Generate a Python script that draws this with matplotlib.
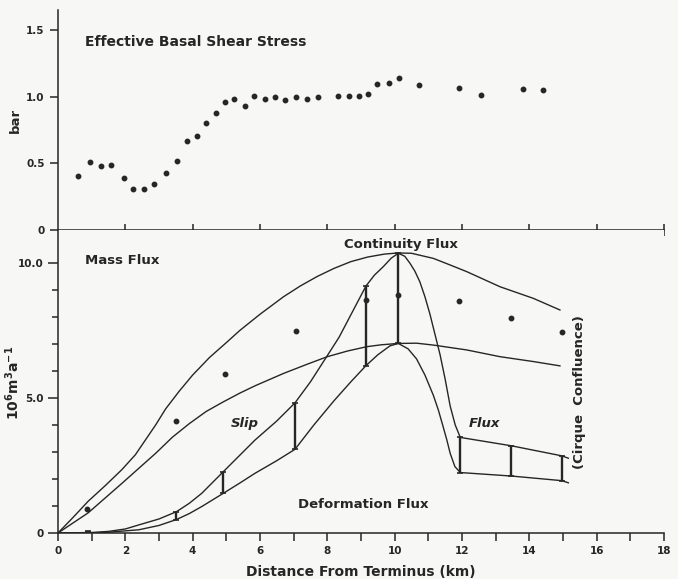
import numpy as np
from matplotlib import pyplot as plt

# top panel: effective basal shear stress (bar)
stress_km = [0.60, 0.95, 1.27, 1.58, 1.96, 2.22, 2.56, 2.86, 3.20, 3.53, 3.83, 4.12,
             4.40, 4.68, 4.96, 5.24, 5.55, 5.83, 6.15, 6.45, 6.75, 7.08, 7.40, 7.71,
             8.32, 8.63, 8.94, 9.22, 9.47, 9.84, 10.14, 10.71, 11.90, 12.56, 13.82, 14.41]
stress_bar = [0.405, 0.51, 0.478, 0.488, 0.388, 0.31, 0.31, 0.343, 0.428, 0.518, 0.67, 0.705,
              0.805, 0.875, 0.958, 0.98, 0.93, 1.008, 0.98, 0.995, 0.973, 0.995, 0.98, 0.995,
              1.008, 1.008, 1.005, 1.018, 1.098, 1.10, 1.138, 1.085, 1.065, 1.015, 1.055, 1.05]

# bottom panel: mass flux (10^6 m^3 a^-1)
cont_hi_km = [0, 0.45, 0.9, 1.4, 1.9, 2.3, 2.6, 2.9, 3.2, 3.6, 4.0, 4.5, 5.0, 5.4, 6.0, 6.7,
              7.2, 7.7, 8.2, 8.7, 9.2, 9.7, 10.1, 10.5, 11.15, 11.6, 12.14, 12.6, 13.13, 14.12, 14.91]
cont_hi = [0, 0.58, 1.18, 1.75, 2.35, 2.9, 3.45, 4.0, 4.6, 5.25, 5.85, 6.5, 7.05, 7.5, 8.1, 8.75,
           9.15, 9.5, 9.8, 10.05, 10.22, 10.33, 10.37, 10.36, 10.17, 9.95, 9.68, 9.42, 9.12, 8.69, 8.26]

cont_lo_km = [0, 0.9, 1.9, 2.9, 3.4, 3.9, 4.4, 4.9, 5.4, 5.85, 6.7, 7.4, 8.0, 8.6, 9.17, 9.6,
              10.1, 10.65, 11.15, 12.14, 13.13, 14.12, 14.91]
cont_lo = [0, 0.75, 1.84, 2.95, 3.55, 4.05, 4.5, 4.85, 5.18, 5.45, 5.91, 6.25, 6.53, 6.74, 6.90, 6.97,
           7.02, 7.03, 6.96, 6.78, 6.53, 6.35, 6.19]

slip_km = [0, 1.0, 1.5, 2.0, 2.4, 3.0, 3.52, 3.9, 4.27, 4.91, 5.4, 5.85, 6.5, 7.04, 7.5, 7.98,
           8.35, 8.67, 9.15, 9.4, 9.66, 9.9, 10.11, 10.3, 10.45, 10.6, 10.75, 10.9, 11.05, 11.2,
           11.35, 11.5, 11.65, 11.8, 11.95, 13.47, 14.96, 15.16]
slip = [0, 0.02, 0.06, 0.15, 0.30, 0.52, 0.79, 1.1, 1.47, 2.27, 2.88, 3.44, 4.15, 4.82, 5.6, 6.53,
        7.25, 8.01, 9.15, 9.55, 9.86, 10.18, 10.36, 10.25, 10.0, 9.7, 9.3, 8.75, 8.1, 7.35,
        6.6, 5.7, 4.7, 4.0, 3.54, 3.23, 2.86, 2.77]

deform_km = [0, 1.0, 1.5, 2.0, 2.4, 3.0, 3.52, 3.9, 4.27, 4.91, 5.4, 5.85, 6.5, 7.04, 7.6, 8.2,
             8.7, 9.15, 9.5, 9.86, 10.11, 10.4, 10.65, 10.9, 11.15, 11.3, 11.44, 11.55, 11.65,
             11.79, 11.95, 13.47, 14.96, 15.16]
deform = [0, 0.0, 0.03, 0.08, 0.12, 0.28, 0.50, 0.72, 0.98, 1.47, 1.85, 2.21, 2.68, 3.10, 4.0, 4.9,
          5.6, 6.20, 6.6, 6.93, 7.02, 6.82, 6.45, 5.85, 5.1, 4.55, 3.94, 3.45, 2.95,
          2.46, 2.24, 2.11, 1.94, 1.86]

err_km = [0.9, 3.5, 4.9, 7.05, 9.15, 10.11, 11.95, 13.47, 14.96]
err_low = [0.02, 0.50, 1.47, 3.10, 6.20, 7.02, 2.24, 2.11, 1.94]
err_high = [0.08, 0.79, 2.27, 4.82, 9.15, 10.36, 3.54, 3.23, 2.86]

meas_km = [0.87, 3.52, 4.96, 7.06, 9.16, 10.11, 11.91, 13.47, 14.98]
meas_flux = [0.90, 4.16, 5.89, 7.49, 8.63, 8.80, 8.61, 7.95, 7.43]

ink = '#262626'
bg = '#f7f7f5'
plt.rcParams['font.family'] = ['DejaVu Sans']
plt.rcParams['font.weight'] = 'bold'
plt.rcParams['mathtext.default'] = 'bf'

fig = plt.figure(figsize=(6.78, 5.79), dpi=100, facecolor=bg)
ax1 = fig.add_axes([0.0855, 0.6028, 0.8938, 0.38])
ax2 = fig.add_axes([0.0855, 0.0794, 0.8938, 0.5233])

for ax in (ax1, ax2):
    ax.set_facecolor(bg)
    ax.spines['top'].set_visible(False)
    ax.spines['right'].set_visible(False)
    for s in ('left', 'bottom'):
        ax.spines[s].set_color(ink)
        ax.spines[s].set_linewidth(1.1)
    ax.set_xlim(0, 18)
    ax.tick_params(colors=ink, labelsize=7.5, width=1.1)

# top panel
ax1.plot(stress_km, stress_bar, 'o', color=ink, ms=3.2)
ax1.set_ylim(0, 1.65)
ax1.set_yticks([0, 0.5, 1.0, 1.5])
ax1.set_yticklabels(['0', '0.5', '1.0', '1.5'])
ax1.set_xticks(range(2, 19, 2))
ax1.tick_params(axis='x', direction='inout', length=8, labelbottom=False)
ax1.tick_params(axis='y', direction='out', length=6)
ax1.set_ylabel('bar', fontsize=9.5, fontweight='bold', color=ink)
ax1.yaxis.set_label_coords(-0.059, 0.5)
ax1.text(0.8, 1.41, 'Effective Basal Shear Stress', fontsize=10, fontweight='bold',
         color=ink, va='center', ha='left')

# bottom panel
lw = 1.0
ax2.plot(cont_hi_km, cont_hi, color=ink, lw=lw)
ax2.plot(cont_lo_km, cont_lo, color=ink, lw=lw)
ax2.plot(slip_km, slip, color=ink, lw=lw)
ax2.plot(deform_km, deform, color=ink, lw=lw)
err_low = np.array(err_low)
err_high = np.array(err_high)
ax2.errorbar(err_km, err_low, yerr=[np.zeros(len(err_low)), err_high - err_low],
             fmt='none', ecolor=ink, elinewidth=1.7, capsize=2.5, capthick=1.2)
ax2.plot(meas_km, meas_flux, 'o', color=ink, ms=3.2)

ax2.set_ylim(0, 11.22)
ax2.set_yticks([0, 5, 10])
ax2.set_yticklabels(['0', '5.0', '10.0'])
ax2.set_yticks(range(0, 11), minor=True)
ax2.set_xticks(range(0, 19, 2))
ax2.set_xticks(range(0, 19), minor=True)
ax2.tick_params(axis='y', which='major', direction='out', length=7)
ax2.tick_params(axis='y', which='minor', direction='out', length=4, width=1.1, colors=ink)
ax2.tick_params(axis='x', which='both', direction='out', length=6)
ax2.tick_params(axis='x', which='minor', width=1.1, colors=ink)
ax2.set_xlabel('Distance From Terminus (km)', fontsize=10, fontweight='bold', color=ink, labelpad=6)
ax2.set_ylabel(r'10$^6$m$^3$a$^{-1}$', fontsize=10, fontweight='bold', color=ink)
ax2.yaxis.set_label_coords(-0.059, 0.495)

ax2.text(0.8, 10.11, 'Mass Flux', fontsize=9.5, fontweight='bold', color=ink, va='center', ha='left')
ax2.text(10.19, 10.67, 'Continuity Flux', fontsize=9.5, fontweight='bold', color=ink, va='center', ha='center')
ax2.text(5.55, 4.07, 'Slip', fontsize=9.5, fontweight='bold', style='italic', color=ink, va='center', ha='center')
ax2.text(12.68, 4.07, 'Flux', fontsize=9.5, fontweight='bold', style='italic', color=ink, va='center', ha='center')
ax2.text(9.06, 1.07, 'Deformation Flux', fontsize=9.5, fontweight='bold', color=ink, va='center', ha='center')
ax2.text(15.5, 5.22, '(Cirque  Confluence)', fontsize=9.5, fontweight='bold', color=ink,
         va='center', ha='center', rotation=90)

plt.savefig('out.png', dpi=100, facecolor=bg)
